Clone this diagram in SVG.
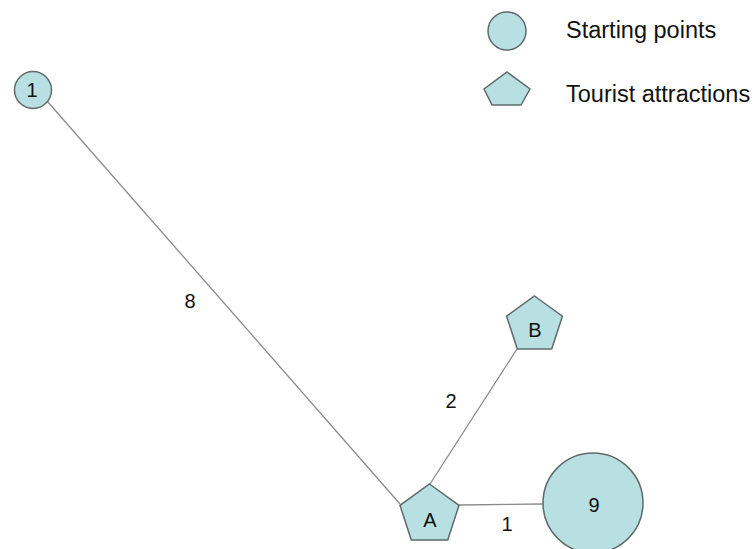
<svg xmlns="http://www.w3.org/2000/svg" width="755" height="549" viewBox="0 0 755 549">
<style>
.n{fill:#b8dfe1;stroke:#5f6b6b;stroke-width:1.5}
.e{stroke:#8a8a8a;stroke-width:1.3;fill:none}
text{font-family:"Liberation Sans",Arial,sans-serif;fill:#111}
.lb{font-size:20px;text-anchor:middle}
.lg{font-size:23.5px}
</style>
<rect width="755" height="549" fill="#fff"/>
<g id="connectors">
<line class="e" x1="47" y1="101" x2="400" y2="504"/>
<line class="e" x1="430" y1="484" x2="517" y2="349"/>
<line class="e" x1="459" y1="505" x2="543" y2="504"/>
<text class="lb" x="190" y="308">8</text>
<text class="lb" x="451" y="408">2</text>
<text class="lb" x="507" y="531">1</text>
</g>
<g id="node-1">
<circle class="n" cx="33" cy="90" r="18.5"/>
<text class="lb" x="32" y="97">1</text>
</g>
<g id="node-A">
<polygon class="n" points="429.5,484 459,505.4 447.7,540 411.3,540 400,505.4"/>
<text class="lb" x="430" y="527">A</text>
</g>
<g id="node-B">
<polygon class="n" points="534.5,296 562.4,316.2 551.7,349 517.3,349 506.6,316.2"/>
<text class="lb" x="535" y="337">B</text>
</g>
<g id="node-9">
<circle class="n" cx="593" cy="503" r="50"/>
<text class="lb" x="594" y="512">9</text>
</g>
<g id="legend">
<circle class="n" cx="507" cy="31" r="19"/>
<text class="lg" x="566" y="38">Starting points</text>
<polygon class="n" points="507,72 530,89 521,105 492,105 484,89"/>
<text class="lg" x="566" y="102">Tourist attractions</text>
</g>
</svg>
